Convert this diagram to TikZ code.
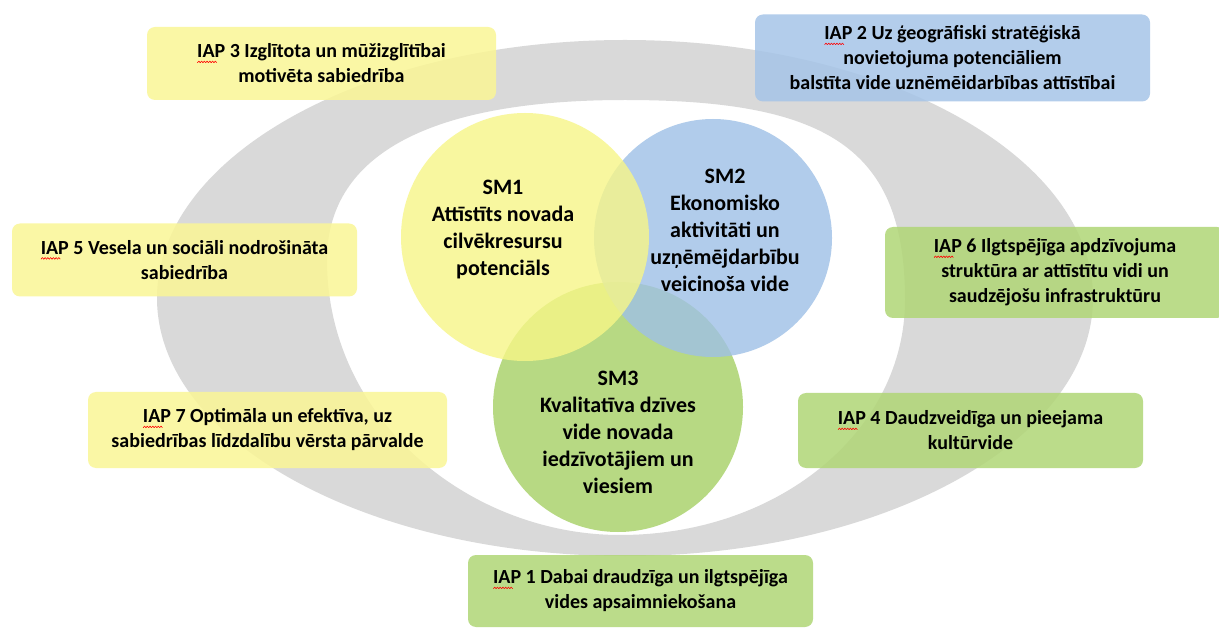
\documentclass[tikz,border=0pt]{standalone}
\usepackage{fontspec}
\setmainfont{Carlito}

\definecolor{ringgrey}{RGB}{217,217,217}
\definecolor{boxyellow}{RGB}{250,246,150}
\definecolor{boxblue}{RGB}{166,197,232}
\definecolor{boxgreen}{RGB}{176,214,118}
\definecolor{smyellow}{RGB}{247,246,135}
\definecolor{smblue}{RGB}{158,192,230}
\definecolor{smgreen}{RGB}{166,208,100}

% red spell-check squiggle under IAP, built from small rules
\newcommand{\wup}{\rotatebox{50}{\rule{2.2pt}{0.6pt}}}
\newcommand{\wdn}{\raisebox{1.7pt}{\rotatebox{-50}{\rule{2.2pt}{0.6pt}}}}
\newcommand{\wpair}{\wup\kern-0.5pt\wdn\kern-0.5pt}
\newcommand{\iap}{\rlap{\raisebox{-5pt}{\color{red}\wpair\wpair\wpair\wpair\wpair\wpair\wpair}}IAP}

\tikzset{
  iapbox/.style={rounded corners=8pt, fill opacity=0.85, text opacity=1, align=center,
    font=\bfseries\fontsize{20}{25}\selectfont, inner sep=0pt},
  smdisc/.style={circle, fill opacity=0.8, inner sep=0pt},
  smtext/.style={align=center, font=\bfseries\fontsize{22}{27}\selectfont, inner sep=0pt}
}

\begin{document}
\begin{tikzpicture}[x=1pt, y=-1pt]

\useasboundingbox (0,0) rectangle (1219,628);
\fill[white] (0,0) rectangle (1219,628);

% grey ring behind everything (outer ellipse, egg-shaped hole)
\fill[ringgrey, even odd rule] (625,298) ellipse [x radius=468, y radius=258]
  (625,100) .. controls (420,100) and (327,160) .. (327,260)
  .. controls (327,420) and (470,535) .. (620,535)
  .. controls (780,535) and (905,430) .. (905,300)
  .. controls (905,150) and (830,100) .. (625,100) -- cycle;

% priority boxes
\node[iapbox, fill=boxyellow, minimum width=349, minimum height=73] (iap3) at (321.5,63.5)
  {\iap{} 3 Izglītota un mūžizglītībai\\motivēta sabiedrība};
\node[iapbox, fill=boxblue, minimum width=395, minimum height=87] (iap2) at (952.5,58)
  {\iap{} 2 Uz ģeogrāfiski stratēģiskā\\novietojuma potenciāliem\\balstīta vide uznēmēidarbības attīstībai};
\node[iapbox, fill=boxyellow, minimum width=345, minimum height=73] (iap5) at (184.5,260)
  {\iap{} 5 Vesela un sociāli nodrošināta\\sabiedrība};
\node[iapbox, fill=boxgreen, minimum width=340, minimum height=91] (iap6) at (1055,272.5)
  {\iap{} 6 Ilgtspējīga apdzīvojuma\\struktūra ar attīstītu vidi un\\saudzējošu infrastruktūru};
\node[iapbox, fill=boxyellow, minimum width=359, minimum height=76] (iap7) at (267.5,430)
  {\iap{} 7 Optimāla un efektīva, uz\\sabiedrības līdzdalību vērsta pārvalde};
\node[iapbox, fill=boxgreen, minimum width=345, minimum height=75] (iap4) at (970.5,430.5)
  {\iap{} 4 Daudzveidīga un pieejama\\kultūrvide};
\node[iapbox, fill=boxgreen, minimum width=345, minimum height=72] (iap1) at (640.5,591)
  {\iap{} 1 Dabai draudzīga un ilgtspējīga\\vides apsaimniekošana};

% three goals
\node[smdisc, fill=smgreen, minimum size=250] (sm3) at (618,407) {};
\node[smdisc, fill=smblue, minimum size=238] (sm2) at (713,238) {};
\node[smdisc, fill=smyellow, minimum size=248] (sm1) at (525,237) {};

\node[smtext] (sm1text) at (503,230) {SM1\\Attīstīts novada\\cilvēkresursu\\potenciāls};
\node[smtext] (sm2text) at (725,230) {SM2\\Ekonomisko\\aktivitāti un\\uzņēmējdarbību\\veicinoša vide};
\node[smtext] (sm3text) at (618,432) {SM3\\Kvalitatīva dzīves\\vide novada\\iedzīvotājiem un\\viesiem};

\end{tikzpicture}
\end{document}
